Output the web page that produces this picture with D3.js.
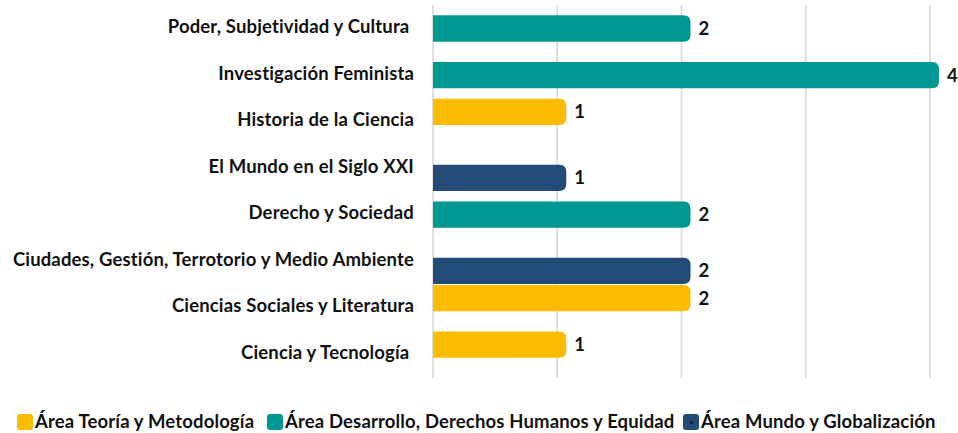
<!DOCTYPE html>
<html>
<head>
<meta charset="utf-8">
<script src="https://cdn.jsdelivr.net/npm/d3@7"></script>
<style>
  html, body { margin: 0; padding: 0; background: #fff; }
  svg { display: block; }
</style>
</head>
<body>
<svg id="chart" width="958" height="433"></svg>
<script>
// ---- Data ----
const categories = [
  "Poder, Subjetividad y Cultura ",
  "Investigación Feminista",
  "Historia de la Ciencia",
  "El Mundo en el Siglo XXI",
  "Derecho y Sociedad",
  "Ciudades, Gestión, Terrotorio y Medio Ambiente",
  "Ciencias Sociales y Literatura",
  "Ciencia y Tecnología "
];
const seriesNames = [
  "Área Teoría y Metodología",
  "Área Desarrollo, Derechos Humanos y Equidad",
  "Área Mundo y Globalización"
];
const teoriaValues     = [0, 0, 1, 0, 0, 0, 2, 1];
const desarrolloValues = [2, 4, 0, 0, 2, 0, 0, 0];
const mundoValues      = [0, 0, 0, 1, 0, 2, 0, 0];
const xTicks = [0, 1, 2, 3, 4];

// ---- Styles ----
const colors = ["#FBBC00", "#009893", "#234B77"];
const font = "Lato, 'Open Sans', sans-serif";
const fs = 18.5, ls = 0.15;

const svg = d3.select("#chart");
const seriesValues = [teoriaValues, desarrolloValues, mundoValues];

const x = d3.scaleLinear().domain([0, 4]).range([433, 930]);
const y = d3.scaleBand().domain(categories).range([5.2, 377.6]).padding(0);
const slot = d3.scalePoint().domain(d3.range(3)).range([-9.7, 9.7]);
const barH = 26.3;
const ext = 9;   // rounded outline extension beyond value
const r = 7;

// gridlines
svg.append("g").selectAll("line").data(xTicks).join("line")
  .attr("x1", d => x(d)).attr("x2", d => x(d))
  .attr("y1", 5).attr("y2", 378)
  .attr("stroke", "#d9d9d9").attr("stroke-width", 1.6);

// bars
const bars = [];
seriesValues.forEach((vals, s) => {
  vals.forEach((v, i) => {
    if (v > 0) bars.push({ s, cat: categories[i], v });
  });
});

function barPath(d) {
  const x0 = x(0);
  const x1 = x(d.v) + ext;
  const cy = y(d.cat) + y.bandwidth() / 2 + slot(d.s);
  const y0 = cy - barH / 2, y1 = cy + barH / 2;
  return `M${x0},${y0} H${x1 - r} Q${x1},${y0} ${x1},${y0 + r} V${y1 - r} Q${x1},${y1} ${x1 - r},${y1} H${x0} Z`;
}

svg.append("g").selectAll("path").data(bars).join("path")
  .attr("d", barPath)
  .attr("fill", d => colors[d.s]);

// value labels
svg.append("g").selectAll("text").data(bars).join("text")
  .attr("x", d => x(d.v) + ext + 8)
  .attr("y", d => y(d.cat) + y.bandwidth() / 2 + slot(d.s))
  .attr("dy", "0.35em")
  .attr("font-family", font).attr("font-weight", "bold").attr("font-size", fs)
  .attr("fill", "#111")
  .text(d => d.v);

// category labels
svg.append("g").selectAll("text").data(categories).join("text")
  .attr("x", 414)
  .attr("y", d => y(d) + y.bandwidth() / 2 - 2)
  .attr("dy", "0.35em")
  .attr("text-anchor", "end")
  .style("white-space", "pre")
  .attr("letter-spacing", ls)
  .attr("font-family", font).attr("font-weight", "bold").attr("font-size", fs)
  .attr("fill", "#111")
  .text(d => d);

// legend
const legendX = [17, 267, 683];
const lg = svg.append("g").selectAll("g").data(seriesNames).join("g")
  .attr("transform", (d, i) => `translate(${legendX[i]},414)`);
lg.append("rect").attr("width", 16).attr("height", 16).attr("rx", 3)
  .attr("fill", (d, i) => colors[i]);
lg.filter((d, i) => i === 2).append("rect")
  .attr("x", 7).attr("y", 7).attr("width", 3).attr("height", 3).attr("fill", "#0d2540");
lg.append("text").attr("x", 18).attr("y", 8).attr("dy", "0.35em")
  .attr("letter-spacing", ls)
  .attr("font-family", font).attr("font-weight", "bold").attr("font-size", fs)
  .attr("fill", "#111")
  .text(d => d);
</script>
</body>
</html>
